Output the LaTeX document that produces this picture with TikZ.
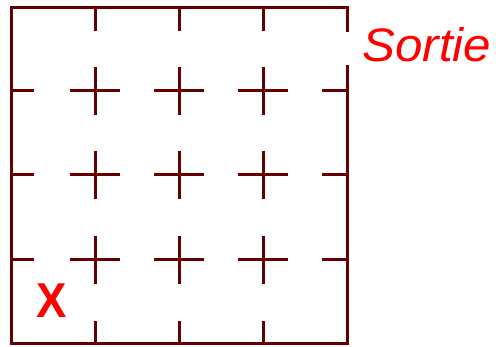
\documentclass[tikz,border=0pt]{standalone}
\usepackage{fontspec}
\setmainfont{Liberation Sans}
\definecolor{wallc}{HTML}{660000}
\definecolor{redc}{HTML}{FF0000}
\begin{document}
\begin{tikzpicture}[x=1pt,y=-1pt,
  wall/.style={draw=wallc,line width=3pt},
  lbl/.style={text=redc,inner sep=0pt,anchor=base west}]
\useasboundingbox (0,0) rectangle (496,347);
% outer wall with exit gap on the right of the top cell
\draw[wall,line join=miter] (347,32) -- (347,8) -- (11,8) -- (11,344) -- (347,344) -- (347,65);
% interior crosses
\foreach \x in {95,179,263}{
  \foreach \y in {91,175,260}{
    \draw[wall] (\x-25,\y) -- (\x+25,\y);
    \draw[wall] (\x,\y-24) -- (\x,\y+24);
  }
  % top and bottom ticks
  \draw[wall] (\x,8) -- (\x,31);
  \draw[wall] (\x,344) -- (\x,321);
}
% left and right ticks
\foreach \y in {91,175,260}{
  \draw[wall] (11,\y) -- (34,\y);
  \draw[wall] (347,\y) -- (322,\y);
}
\node[lbl,font=\itshape\fontsize{47}{47}\selectfont,xscale=1.05] (sortie) at (362,62) {Sortie};
\node[lbl,font=\bfseries\fontsize{49}{49}\selectfont,xscale=0.93] (start) at (36,318) {X};
\end{tikzpicture}
\end{document}
